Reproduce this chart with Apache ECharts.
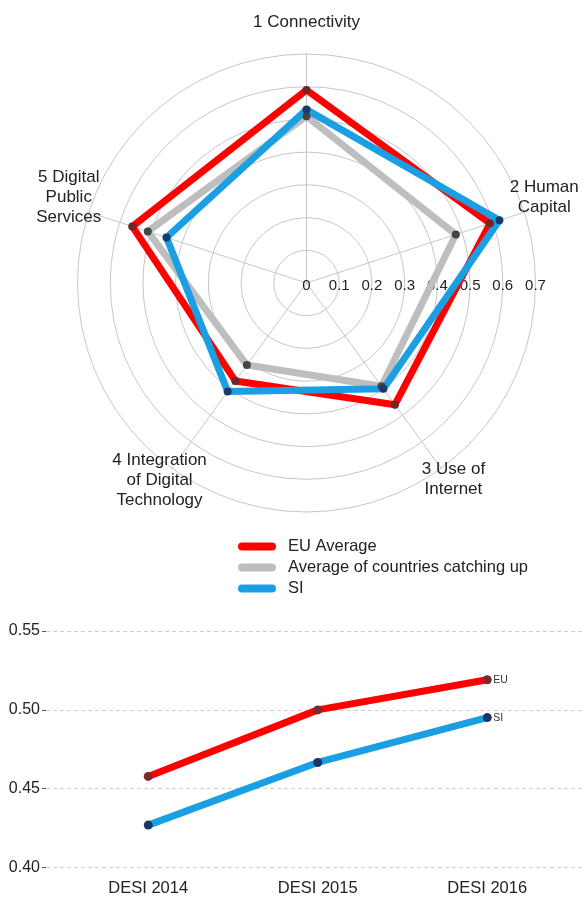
<!DOCTYPE html>
<html>
<head>
<meta charset="utf-8">
<script src="https://cdn.jsdelivr.net/npm/echarts@6/dist/echarts.min.js"></script>
<style>
html, body { margin: 0; padding: 0; background: #fff; }
#chart { width: 583px; height: 897px; }
</style>
</head>
<body>
<div id="chart"></div>
<script>
// radar dimensions, listed clockwise from the top
const dimensions = ['1 Connectivity', '2 Human\nCapital', '3 Use of\nInternet', '4 Integration\nof Digital\nTechnology', '5 Digital\nPublic\nServices'];
const euAverage = [0.59, 0.59, 0.46, 0.37, 0.56];
const catchingUp = [0.51, 0.48, 0.39, 0.31, 0.51];
const siScores = [0.53, 0.62, 0.40, 0.41, 0.45];

// DESI over time
const years = ['DESI 2014', 'DESI 2015', 'DESI 2016'];
const euTrend = [0.456, 0.499, 0.5185];
const siTrend = [0.4245, 0.465, 0.494];

const RED = '#ff0000';
const GREY = '#bebebe';
const BLUE = '#1a9fe3';
const FONT = 'Liberation Sans, Arial, sans-serif';

// echarts lays radar axes out counter-clockwise, so walk the list backwards after the first one
const order = [0, 4, 3, 2, 1];
const pick = arr => order.map(i => arr[i]);

// an empty line under each axis name lifts it a little (height = 2x the lift)
const nameLift = [22, 16, 12, 9, 16];
const nameRich = {};
nameLift.forEach((h, k) => {
    nameRich['s' + k] = { fontSize: 1, lineHeight: h };
});

const chart = echarts.init(document.getElementById('chart'));

chart.setOption({
    animation: false,
    textStyle: { fontFamily: FONT },
    legend: {
        orient: 'vertical',
        left: 233,
        top: 533,
        itemWidth: 38,
        itemHeight: 8,
        itemGap: 4,
        icon: 'path://M4,0H34A4,4,0,0,1,34,8H4A4,4,0,0,1,4,0Z',
        textStyle: { fontSize: 16.5, color: '#222', padding: [0, 0, 0, 7] },
        data: [
            { name: 'EU Average', itemStyle: { color: RED } },
            { name: 'Average of countries catching up', itemStyle: { color: GREY } },
            { name: 'SI', itemStyle: { color: BLUE } },
        ],
    },
    radar: {
        center: [306.5, 283],
        radius: 229,
        startAngle: 90,
        splitNumber: 7,
        shape: 'circle',
        nameGap: 21,
        indicator: pick(dimensions).map(name => ({ name, min: 0, max: 0.7 })),
        axisName: {
            color: '#222',
            fontSize: 17,
            lineHeight: 20,
            align: 'center',
            verticalAlign: 'middle',
            formatter: name => name + '\n{s' + dimensions.indexOf(name) + '| }',
            rich: nameRich,
        },
        axisLine: { lineStyle: { color: '#c6c6c6', width: 1 } },
        splitLine: { lineStyle: { color: '#c6c6c6', width: 1 } },
        splitArea: { show: false },
    },
    // polar only carries the horizontal 0 ... 0.7 scale
    polar: { center: [306.5, 283], radius: 229 },
    angleAxis: { startAngle: 0, show: false, min: 0, max: 360 },
    radiusAxis: {
        min: 0,
        max: 0.7,
        interval: 0.1,
        axisLine: { show: false },
        axisTick: { show: false },
        splitLine: { show: false },
        axisLabel: { margin: -10, fontSize: 15, color: '#222' },
    },
    grid: [
        { left: 46, right: 0, top: 631, bottom: 29.5 },
        { left: 63.5, right: 11, top: 631, bottom: 29.5 },
    ],
    xAxis: [
        { gridIndex: 0, type: 'category', data: years, show: false },
        {
            gridIndex: 1,
            type: 'category',
            data: years,
            offset: 10,
            axisLine: { show: false },
            axisTick: { alignWithLabel: true, length: 4, lineStyle: { color: '#666' } },
            axisLabel: { fontSize: 16.5, color: '#222', margin: 7 },
        },
    ],
    yAxis: [
        {
            gridIndex: 0,
            type: 'value',
            min: 0.4,
            max: 0.55,
            interval: 0.05,
            axisLine: { show: false },
            axisTick: { show: true, length: 4, lineStyle: { color: '#555' } },
            axisLabel: { fontSize: 16, color: '#222', margin: 6, formatter: v => v.toFixed(2) },
            splitLine: { lineStyle: { color: '#cfcfcf', type: [4, 3] } },
        },
        { gridIndex: 1, type: 'value', min: 0.4, max: 0.55, interval: 0.05, show: false },
    ],
    series: [
        {
            type: 'radar',
            symbol: 'circle',
            symbolSize: 8,
            data: [
                {
                    name: 'EU Average',
                    value: pick(euAverage),
                    lineStyle: { color: RED, width: 7 },
                    itemStyle: { color: '#6e2626' },
                },
                {
                    name: 'Average of countries catching up',
                    value: pick(catchingUp),
                    lineStyle: { color: GREY, width: 7 },
                    itemStyle: { color: '#454545' },
                },
                {
                    name: 'SI',
                    value: pick(siScores),
                    lineStyle: { color: BLUE, width: 7 },
                    itemStyle: { color: '#193a6c' },
                },
            ],
        },
        {
            name: 'EU trend',
            type: 'line',
            xAxisIndex: 1,
            yAxisIndex: 1,
            data: euTrend,
            symbol: 'circle',
            symbolSize: 9,
            itemStyle: { color: '#7a2a2a' },
            lineStyle: { color: RED, width: 7 },
            endLabel: { show: true, formatter: 'EU', fontSize: 10.5, color: '#333', distance: 6 },
        },
        {
            name: 'SI trend',
            type: 'line',
            xAxisIndex: 1,
            yAxisIndex: 1,
            data: siTrend,
            symbol: 'circle',
            symbolSize: 9,
            itemStyle: { color: '#1a3566' },
            lineStyle: { color: BLUE, width: 7 },
            endLabel: { show: true, formatter: 'SI', fontSize: 10.5, color: '#333', distance: 6 },
        },
    ],
});

window.addEventListener('resize', () => chart.resize());
</script>
</body>
</html>
